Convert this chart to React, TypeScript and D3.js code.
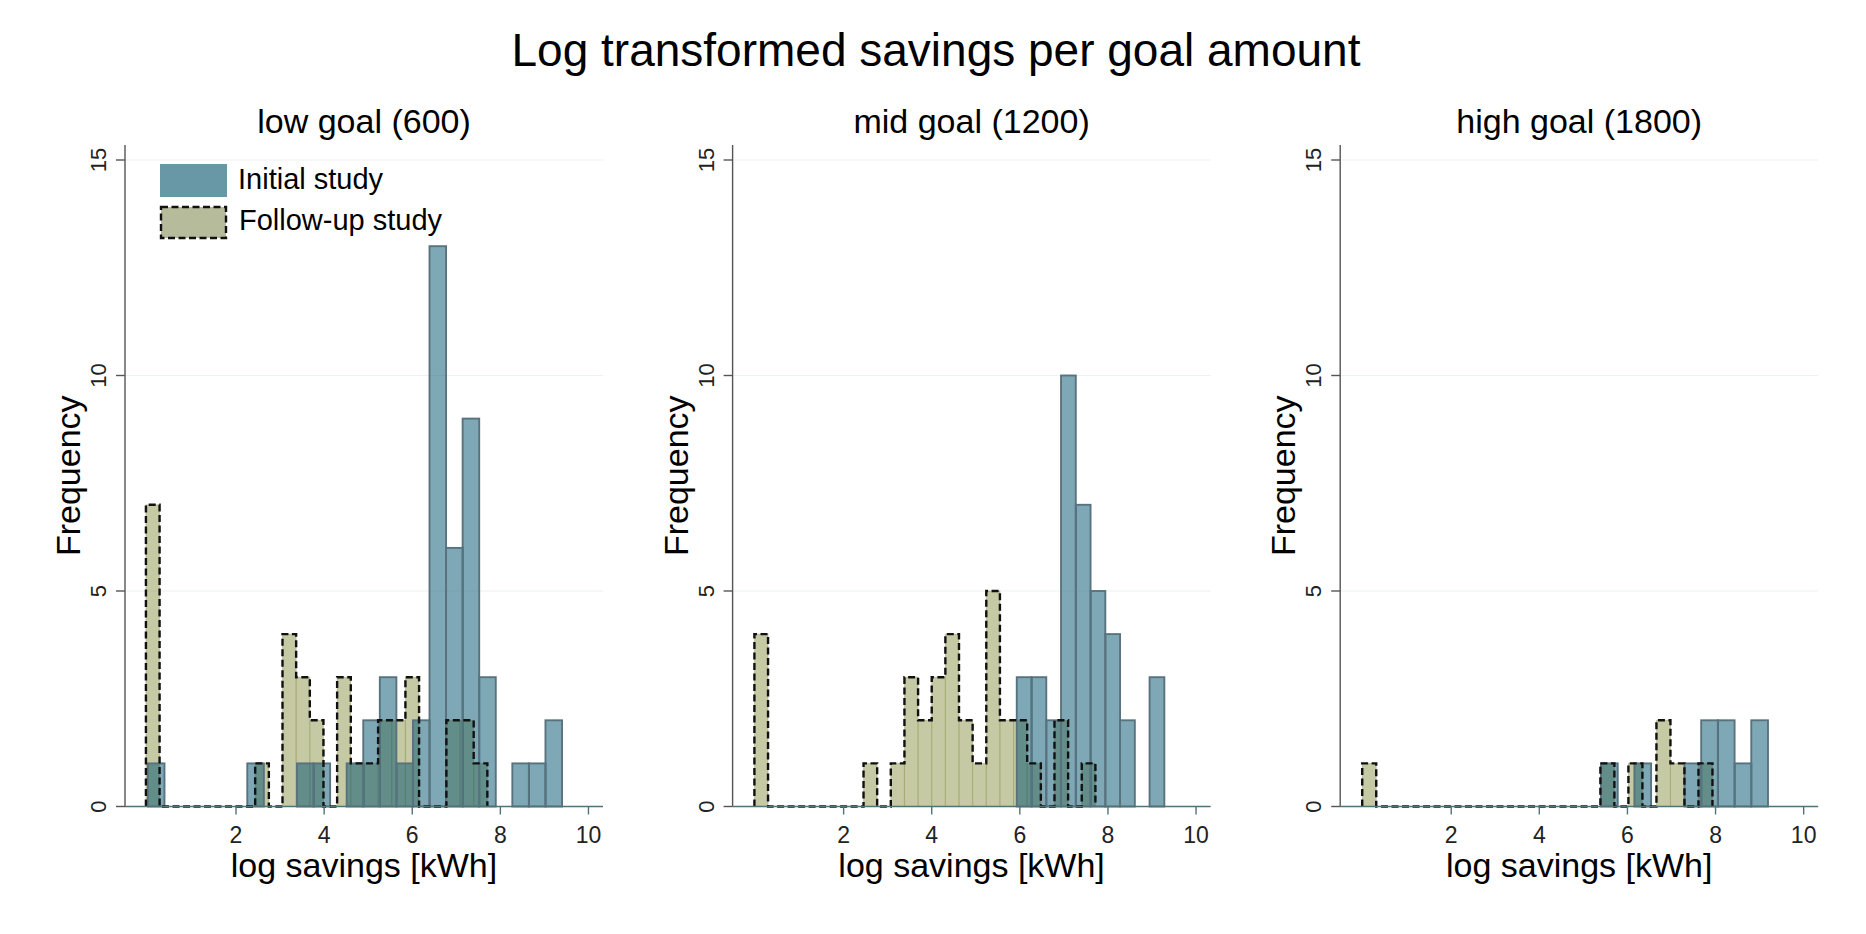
import { useEffect } from 'react';
import * as d3 from 'd3';

// ---- data ----
const chartTitle = 'Log transformed savings per goal amount';
const panelTitles = ['low goal (600)', 'mid goal (1200)', 'high goal (1800)'];
const seriesNames = ['Initial study', 'Follow-up study'];
const xTicks = [2, 4, 6, 8, 10];
const yTicks = [0, 5, 10, 15];

// initial study: first bin edge, bin width, counts per bin
const initialStart = [0.0, 5.93, 5.4];
const initialWidth = [0.376, 0.335, 0.379];
const initialCounts = [
  [1, 0, 0, 0, 0, 0, 1, 0, 0, 1, 1, 0, 1, 2, 3, 1, 2, 13, 6, 9, 3, 0, 1, 1, 2],
  [3, 3, 2, 10, 7, 5, 4, 2, 0, 3],
  [1, 0, 1, 0, 0, 1, 2, 2, 1, 2],
];

// follow-up study
const followStart = [-0.045, -0.025, -0.02];
const followWidth = [0.31, 0.3096, 0.318];
const followCounts = [
  [7, 0, 0, 0, 0, 0, 0, 0, 1, 0, 4, 3, 2, 0, 3, 1, 1, 2, 2, 3, 0, 0, 2, 2, 1],
  [4, 0, 0, 0, 0, 0, 0, 0, 1, 0, 1, 3, 2, 3, 4, 2, 1, 5, 2, 2, 1, 0, 2, 0, 1],
  [1, 0, 0, 0, 0, 0, 0, 0, 0, 0, 0, 0, 0, 0, 0, 0, 0, 1, 0, 1, 0, 2, 1, 0, 1],
];

const W = 1866;
const H = 934;
const FONT = 'Arial, "Liberation Sans", Helvetica, sans-serif';

const plotLeft = 125;
const plotWidth = 478;
const panelStep = 607.6;
const yBase = 806.5;
const yTop = 160;
const axisTop = 145;

const initialFill = '#00516d';
const initialStroke = '#58737e';
const followFill = '#8b9349';

export default function App() {
  useEffect(() => {
    document.body.style.margin = '0';
  }, []);

  const y = d3.scaleLinear().domain([0, 15]).range([yBase, yTop]);

  return (
    <svg width={W} height={H} viewBox={`0 0 ${W} ${H}`} style={{ display: 'block', background: '#fff' }} fontFamily={FONT}>
      <text x={936} y={66} textAnchor="middle" fontSize={46} fill="#000">
        {chartTitle}
      </text>
      {panelTitles.map((title, p) => {
        const left = plotLeft + p * panelStep;
        const x = d3.scaleLinear().domain([-0.52, 10.33]).range([left, left + plotWidth]);
        const cx = left + plotWidth / 2;

        const fStart = followStart[p];
        const fW = followWidth[p];
        const fCounts = followCounts[p];
        const iStart = initialStart[p];
        const iW = initialWidth[p];
        const iCounts = initialCounts[p];

        // step outline around follow-up histogram
        const pts: [number, number][] = [[x(fStart), y(0)]];
        fCounts.forEach((c, i) => {
          pts.push([x(fStart + i * fW), y(c)]);
          pts.push([x(fStart + (i + 1) * fW), y(c)]);
        });
        pts.push([x(fStart + fCounts.length * fW), y(0)]);
        const outline = d3.line()(pts) ?? '';

        return (
          <g key={title}>
            {/* grid */}
            {yTicks.filter(t => t > 0).map(t => (
              <line key={t} x1={left} x2={left + plotWidth} y1={y(t)} y2={y(t)} stroke="#edf1f1" strokeWidth={1.2} />
            ))}

            {/* follow-up fills */}
            {fCounts.map((c, i) =>
              c > 0 ? (
                <rect
                  key={'f' + i}
                  x={x(fStart + i * fW)}
                  y={y(c)}
                  width={x(fW) - x(0)}
                  height={y(0) - y(c)}
                  fill={followFill}
                  fillOpacity={0.5}
                  stroke={followFill}
                  strokeOpacity={0.35}
                  strokeWidth={1}
                />
              ) : null
            )}

            {/* initial bars */}
            {iCounts.map((c, i) =>
              c > 0 ? (
                <rect
                  key={'i' + i}
                  x={x(iStart + i * iW)}
                  y={y(c)}
                  width={x(iW) - x(0)}
                  height={y(0) - y(c)}
                  fill={initialFill}
                  fillOpacity={0.5}
                  stroke={initialStroke}
                  strokeWidth={1.9}
                />
              ) : null
            )}

            <path d={outline} fill="none" stroke="#111" strokeWidth={2.4} strokeDasharray="7 3.5" />

            {/* axes */}
            <line x1={left} x2={left} y1={axisTop} y2={yBase} stroke="#555" strokeWidth={1.4} />
            {yTicks.map(t => (
              <g key={'yt' + t}>
                <line x1={left - 9} x2={left} y1={y(t)} y2={y(t)} stroke="#555" strokeWidth={1.4} />
                <text
                  transform={`translate(${left - 19},${y(t)}) rotate(-90)`}
                  textAnchor="middle"
                  fontSize={22}
                  fill="#222"
                >
                  {t}
                </text>
              </g>
            ))}
            <line x1={left} x2={left + plotWidth} y1={yBase} y2={yBase} stroke="#4f7376" strokeWidth={1.6} />
            {xTicks.map(t => (
              <g key={'xt' + t}>
                <line x1={x(t)} x2={x(t)} y1={yBase} y2={yBase + 8} stroke="#4f7376" strokeWidth={1.4} />
                <text x={x(t)} y={843} textAnchor="middle" fontSize={23} fill="#222">
                  {t}
                </text>
              </g>
            ))}

            <text x={cx} y={133} textAnchor="middle" fontSize={34} fill="#000">
              {title}
            </text>
            <text x={cx} y={877} textAnchor="middle" fontSize={34} fill="#000">
              log savings [kWh]
            </text>
            <text transform={`translate(${left - 45},${(axisTop + yBase) / 2}) rotate(-90)`} textAnchor="middle" fontSize={34} fill="#000">
              Frequency
            </text>

            {p === 0 && (
              <g>
                <rect x={160} y={164} width={67} height={33} fill="#6898a5" />
                <text x={238} y={189} fontSize={29} fill="#000">
                  {seriesNames[0]}
                </text>
                <rect x={161} y={207} width={65} height={31} fill="#b6bc9b" stroke="#111" strokeWidth={2.4} strokeDasharray="7 3.5" />
                <text x={239} y={230} fontSize={29} fill="#000">
                  {seriesNames[1]}
                </text>
              </g>
            )}
          </g>
        );
      })}
    </svg>
  );
}
